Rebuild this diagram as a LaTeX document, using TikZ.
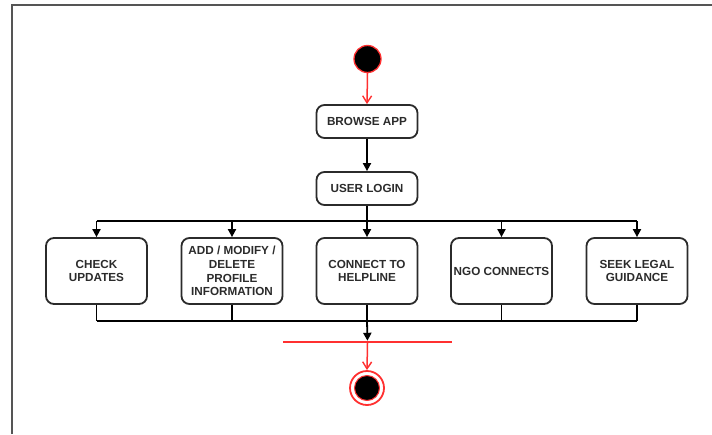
\documentclass[tikz,border=0pt]{standalone}
\usepackage{fontspec}
\setmainfont{Liberation Sans}
\usetikzlibrary{arrows.meta}
\definecolor{ink}{HTML}{2B2B2B}
\definecolor{framegray}{HTML}{555555}
\definecolor{flowred}{HTML}{FF3030}
\tikzset{
  activity/.style={draw=ink, line width=1.8pt, rounded corners=8pt, fill=white,
    minimum width=101pt, align=center, text=ink,
    font=\fontsize{11.7}{13.7}\selectfont\bfseries, inner sep=1pt},
  flow/.style={draw=black, line width=1.8pt},
  flowarrow/.style={flow, -{Triangle[length=8pt,width=8pt]}},
  redarrow/.style={draw=flowred, line width=1.5pt, -{Straight Barb[length=7pt,width=9pt,line width=1.4pt]}},
}
\begin{document}
\begin{tikzpicture}[x=1pt,y=-1pt]
  \useasboundingbox (0,0) rectangle (712,434);
  % partial outer frame
  \draw[framegray, line width=2.5pt] (12,434) -- (12,5) -- (712,5);

  % start node
  \node (start) [circle, fill=black, draw=flowred, line width=1.3pt,
    minimum size=27pt, inner sep=0pt] at (367.5,59) {};

  % sequential actions
  \node (browse) [activity, minimum height=33pt] at (367,121.5) {BROWSE APP};
  \node (login)  [activity, minimum height=33pt] at (367,188.5) {USER LOGIN};

  % parallel actions
  \node (check)   [activity, minimum height=66pt] at (96.5,271)  {CHECK\\UPDATES};
  \node (profile) [activity, minimum height=66pt] at (232,271)   {ADD / MODIFY /\\DELETE\\PROFILE\\INFORMATION};
  \node (help)    [activity, minimum height=66pt] at (367,271)   {CONNECT TO\\HELPLINE};
  \node (ngo)     [activity, minimum height=66pt] at (501.5,271) {NGO CONNECTS};
  \node (legal)   [activity, minimum height=66pt] at (637,271)   {SEEK LEGAL\\GUIDANCE};

  % join bar and final node
  \node (join) [fill=flowred, minimum width=169pt, minimum height=2pt,
    inner sep=0pt] at (367.5,342) {};
  \node (finish) [circle, draw=flowred, line width=1.8pt, fill=white,
    minimum size=34pt, inner sep=0pt] at (367,388) {};
  \node (finishdot) [circle, fill=black, draw=flowred, line width=1pt,
    minimum size=25pt, inner sep=0pt] at (367,388) {};

  % fork and join coordinates
  \coordinate (forkL) at (96.5,221);
  \coordinate (forkC) at (367,221);
  \coordinate (forkR) at (637,221);
  \coordinate (mergeL) at (96.5,321);
  \coordinate (mergeC) at (367,321);
  \coordinate (mergeR) at (637,321);

  % connectors
  \draw[redarrow] (start.south) -- (browse.north);
  \draw[flowarrow] (browse) -- (login);
  \draw[flow, line width=2.4pt] (login.south) -- (forkC);
  \draw[flow] (forkL) -- (forkR);
  \foreach \n in {check,profile,help,ngo,legal}
    \draw[flowarrow] (\n.north |- forkC) -- (\n.north);
  \foreach \n in {check,profile,help,ngo,legal}
    \draw[flow] (\n.south) -- (\n.south |- mergeC);
  \draw[flow] (mergeL) -- (mergeR);
  \draw[flowarrow] (mergeC) -- (join.north);
  \draw[redarrow] (join.south) -- (finish.north);
\end{tikzpicture}
\end{document}
